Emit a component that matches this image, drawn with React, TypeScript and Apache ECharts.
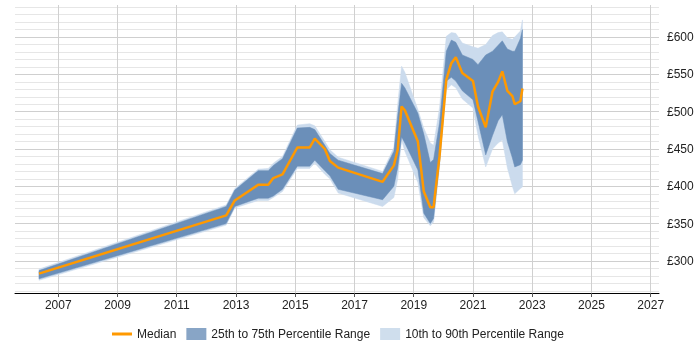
import { useEffect, useRef } from "react";
import * as echarts from "echarts";

// Sample dates as decimal years
const dates = [
  2006.35, 2012.67, 2012.96, 2013.75, 2014.09, 2014.26, 2014.57, 2015.07, 2015.49, 2015.66,
  2016.0, 2016.17, 2016.45, 2017.95, 2018.33, 2018.46, 2018.59, 2018.7, 2019.14, 2019.34,
  2019.56, 2019.67, 2019.87, 2020.1, 2020.27, 2020.42, 2020.64, 2021.0, 2021.17, 2021.43,
  2021.66, 2021.85, 2021.99, 2022.16, 2022.33, 2022.41, 2022.6, 2022.67,
];

// Percentile values (£)
const p10 = [
  274, 348, 371, 381, 381, 385, 393, 424, 424, 431,
  416, 410, 391, 373, 385, 410, 462, 447, 405, 358,
  347, 352, 425, 529, 536, 532, 517, 505, 468, 426,
  450, 458, 462, 425, 400, 390, 397, 399,
];
const p25 = [
  276, 350, 373, 384, 384, 387, 396, 427, 427, 435,
  421, 414, 396, 382, 400, 425, 466, 458, 422, 364,
  350, 357, 432, 541, 546, 541, 528, 516, 487, 442,
  468, 488, 496, 460, 438, 426, 429, 435,
];
const median = [
  283, 361, 381, 402, 402, 411, 416, 452, 452, 464,
  450, 434, 425, 406, 428, 449, 507, 502, 460, 393,
  372, 372, 440, 543, 565, 573, 552, 541, 507, 479,
  527, 540, 554, 528, 521, 510, 514, 531,
];
const p75 = [
  287, 373, 395, 421, 421, 428, 437, 478, 479, 476,
  455, 444, 435, 417, 447, 495, 538, 532, 498, 470,
  432, 436, 485, 581, 596, 593, 576, 570, 563, 576,
  581, 589, 595, 584, 581, 581, 598, 610,
];
const p90 = [
  289, 375, 397, 423, 424, 431, 440, 482, 484, 481,
  460, 449, 439, 420, 452, 510, 561, 553, 503, 478,
  458, 455, 505, 601, 606, 605, 592, 587, 585, 590,
  602, 606, 607, 599, 597, 600, 608, 623,
];

const yearTicks = [2007, 2009, 2011, 2013, 2015, 2017, 2019, 2021, 2023, 2025, 2027];
const priceLabels = [300, 350, 400, 450, 500, 550, 600];
const priceGridLines = [
  260, 270, 280, 290, 300, 310, 320, 330, 340, 350, 360, 370, 380, 390, 400, 410, 420,
  430, 440, 450, 460, 470, 480, 490, 500, 510, 520, 530, 540, 550, 560, 570, 580, 590,
  600, 610, 620, 630, 640,
];

const ORANGE = "#ff9900";
const DARK_BAND = "#6b8fb9";
const LIGHT_BAND = "#cbdbed";
const FONT = "'Liberation Sans', Arial, sans-serif";

// Filled band between a lower and an upper percentile, as one polygon
function bandSeries(name: string, lower: number[], upper: number[], color: string) {
  return {
    type: "custom" as const,
    name,
    coordinateSystem: "cartesian2d",
    silent: true,
    encode: { x: 0, y: 1 },
    itemStyle: { color },
    data: [[dates[0], lower[0]]],
    renderItem: (_params: any, api: any) => {
      const top = dates.map((d, i) => api.coord([d, upper[i]]));
      const bottom = dates.map((d, i) => api.coord([d, lower[i]])).reverse();
      return {
        type: "polygon",
        shape: { points: top.concat(bottom) },
        style: { fill: color, stroke: color, lineWidth: 0.5 },
      };
    },
  };
}

export default function App() {
  const ref = useRef<HTMLDivElement>(null);

  useEffect(() => {
    const chart = echarts.init(ref.current!, undefined, { renderer: "svg" });
    const pairs = (vals: number[]) => dates.map((d, i) => [d, vals[i]]);

    chart.setOption({
      animation: false,
      textStyle: { fontFamily: FONT },
      grid: { left: 15, right: 41, top: 5, bottom: 57 },
      xAxis: {
        type: "value",
        min: 2005.54,
        max: 2027.28,
        axisLine: { show: true, lineStyle: { color: "#000", width: 1 } },
        axisTick: {
          show: true,
          length: 4,
          customValues: yearTicks,
          lineStyle: { color: "#555" },
        },
        axisLabel: {
          customValues: yearTicks,
          formatter: (v: number) => String(v),
          color: "#222",
          fontSize: 12,
          margin: 6,
          fontFamily: FONT,
        },
        splitLine: { show: true, lineStyle: { color: "#d0d0d0", width: 1 } },
      },
      yAxis: {
        type: "value",
        position: "right",
        min: 257,
        max: 643,
        axisLine: { show: false },
        axisTick: { show: false, customValues: priceGridLines },
        axisLabel: {
          customValues: priceLabels,
          formatter: (v: number) => "£" + v,
          color: "#222",
          fontSize: 12,
          margin: 8,
          fontFamily: FONT,
        },
        splitLine: {
          show: true,
          lineStyle: {
            color: ["#e6e6e6", "#e6e6e6", "#e6e6e6", "#e6e6e6", "#cfcfcf"],
            width: 1,
          },
        },
      },
      legend: {
        left: 112,
        top: 328,
        padding: 0,
        itemWidth: 20,
        itemHeight: 12,
        itemGap: 10,
        symbolKeepAspect: true,
        textStyle: { fontSize: 12, color: "#222", fontFamily: FONT },
        data: [
          { name: "Median", icon: "path://M0,0H20V3H0Z", itemStyle: { color: ORANGE } },
          { name: "25th to 75th Percentile Range", icon: "rect", itemStyle: { color: "#88a5c6" } },
          { name: "10th to 90th Percentile Range", icon: "rect", itemStyle: { color: "#cfdeed" } },
        ],
      },
      series: [
        bandSeries("10th to 90th Percentile Range", p10, p90, LIGHT_BAND),
        bandSeries("25th to 75th Percentile Range", p25, p75, DARK_BAND),
        {
          type: "line",
          name: "Median",
          symbol: "none",
          data: pairs(median),
          itemStyle: { color: ORANGE },
          lineStyle: { color: ORANGE, width: 2.5 },
        },
      ],
    });

    return () => chart.dispose();
  }, []);

  return (
    <div
      ref={ref}
      style={{ position: "fixed", left: 0, top: 0, width: 700, height: 350 }}
    />
  );
}
